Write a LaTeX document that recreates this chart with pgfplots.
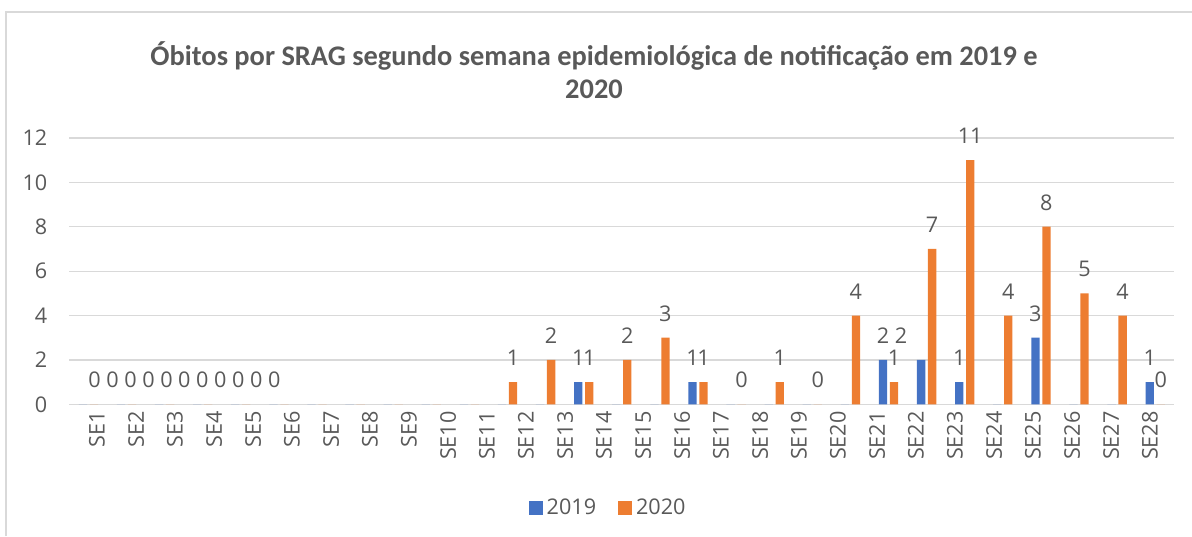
\documentclass[border=0pt]{standalone}
\usepackage{fontspec}
\setmainfont{Open Sans}
\newfontfamily\titulo{Carlito}
\usepackage{pgfplots}
\pgfplotsset{compat=1.18}
\definecolor{azul}{HTML}{4472C4}
\definecolor{laranja}{HTML}{ED7D31}
\definecolor{texto}{HTML}{595959}
\definecolor{grade}{HTML}{D9D9D9}
\newcommand\rotulo{\fontsize{10.8pt}{13pt}\selectfont}

\begin{document}
\begin{tikzpicture}
\useasboundingbox (0,0) rectangle (596pt,-268pt);
\draw[grade, line width=0.8pt] (3pt,-268pt) -- (3pt,-6pt) -- (596pt,-6pt);
\node[font=\titulo\bfseries\fontsize{14.2pt}{16.5pt}\selectfont, text=texto, align=center]
  at (297pt,-35pt) {Óbitos por SRAG segundo semana epidemiológica de notificação em 2019 e\\2020};
\begin{axis}[
    at={(34.675pt,-202.15pt)}, anchor=south west,
    scale only axis, width=552.45pt, height=133.2pt,
    ybar=1.35pt, bar width=4.15pt,
    xmin=0.5, xmax=29.5, ymin=0, ymax=12,
    ytick={0,2,4,6,8,10,12},
    xtick={1.09,2.12,3.14,4.17,5.19,6.21,7.24,8.26,9.28,10.31,11.33,12.35,13.38,14.40,
           15.43,16.45,17.47,18.50,19.52,20.54,21.57,22.59,23.61,24.64,25.66,26.69,27.71,28.73},
    xticklabels={SE1,SE2,SE3,SE4,SE5,SE6,SE7,SE8,SE9,SE10,SE11,SE12,SE13,SE14,
                 SE15,SE16,SE17,SE18,SE19,SE20,SE21,SE22,SE23,SE24,SE25,SE26,SE27,SE28},
    major tick length=0pt,
    axis line style={draw=none},
    ymajorgrids, grid style={grade, line width=0.6pt},
    tick label style={text=texto, font=\rotulo},
    /pgf/number format/assume math mode=true,
    xticklabel style={rotate=90, anchor=east, yshift=-2.5pt},
    yticklabel style={xshift=-7.5pt},
    nodes near coords,
    point meta=explicit symbolic,
    every node near coord/.append style={text=texto, font=\rotulo, yshift=4.6pt},
    legend style={at={(0.4885,-0.389)}, anchor=center, draw=none, text=texto, font=\rotulo,
        legend columns=2, /tikz/every even column/.append style={column sep=9pt}},
    legend image code/.code={\fill[#1, draw=none] (0pt,-3.5pt) rectangle (7pt,3.5pt);},
]
\addplot[fill=azul, draw=none] coordinates {
    (1,0) [] (2,0) [] (3,0) [] (4,0) [] (5,0) [] (6,0) [] (7,0) [] (8,0) [] (9,0) [] (10,0) []
    (11,0) [] (12,0) [] (13,0) [] (14,1) [1] (15,0) [] (16,0) [] (17,1) [1] (18,0) [] (19,0) []
    (20,0) [] (21,0) [] (22,2) [{\phantom{2\ }2\ 2}] (23,2) [] (24,1) [1] (25,0) [] (26,3) [3]
    (27,0) [] (28,0) [] (29,1) [1]
};
\addplot[fill=laranja, draw=none] coordinates {
    (1,0) [] (2,0) [] (3,0) [] (4,0) [] (5,0) [] (6,0) [] (7,0) [] (8,0) [] (9,0) [] (10,0) []
    (11,0) [] (12,1) [1] (13,2) [2] (14,1) [1] (15,2) [2] (16,3) [3] (17,1) [1] (18,0) [0]
    (19,1) [1] (20,0) [0] (21,4) [4] (22,1) [1] (23,7) [7] (24,11) [11] (25,4) [4] (26,8) [8]
    (27,5) [5] (28,4) [4] (29,0) [0]
};
\legend{2019, 2020}
\node[anchor=base west, inner sep=0pt, text=texto, font=\rotulo] at (axis cs:0.99,0) [yshift=8.3pt] {0 0 0 0 0 0 0 0 0 0 0};
\end{axis}
\end{tikzpicture}
\end{document}
